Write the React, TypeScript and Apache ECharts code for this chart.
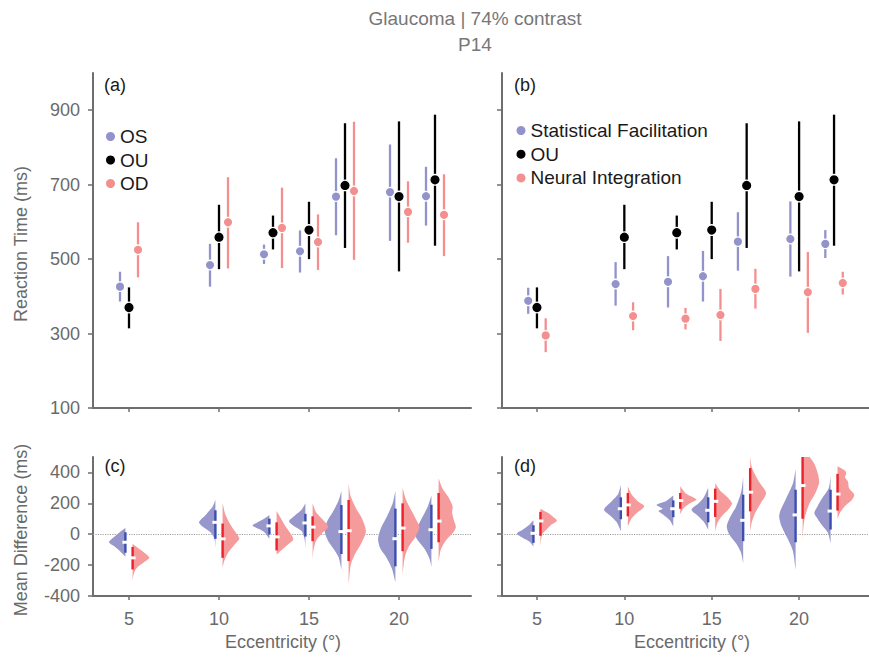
import React, { useEffect, useRef } from "react";
import * as echarts from "echarts";

// ---------- data ----------
const eccentricities = [5, 10, 13, 15, 17, 20, 22];
const xTicks = [5, 10, 15, 20];
const rtTicks = [100, 300, 500, 700, 900];
const diffTicks = [-400, -200, 0, 200, 400];

// Panel (a): reaction times
const osMean = [426, 484, 513, 521, 668, 680, 669];
const osLow = [386, 426, 487, 464, 564, 549, 590];
const osHigh = [466, 541, 539, 577, 771, 808, 748];
const ouMean = [370, 559, 571, 578, 698, 668, 713];
const ouLow = [314, 473, 526, 500, 530, 467, 536];
const ouHigh = [424, 646, 617, 654, 865, 870, 888];
const odMean = [525, 599, 584, 546, 683, 627, 619];
const odLow = [451, 475, 476, 471, 498, 544, 508];
const odHigh = [599, 720, 692, 620, 869, 709, 728];

// Panel (b): model predictions
const sfMean = [388, 433, 439, 454, 547, 554, 541];
const sfLow = [353, 375, 370, 386, 469, 453, 503];
const sfHigh = [423, 492, 508, 522, 626, 655, 578];
const niMean = [295, 347, 340, 350, 420, 411, 436];
const niLow = [250, 309, 311, 280, 367, 302, 405];
const niHigh = [341, 384, 369, 420, 474, 519, 466];

// Panel (c): mean-difference distributions, profile = [value, half width (deg)]
const cOsProfiles = [
  [[40, 0], [10, 0.35], [-20, 0.65], [-52, 0.91], [-80, 0.6], [-110, 0.3], [-146, 0]],
  [[224, 0], [180, 0.15], [130, 0.5], [77, 0.91], [40, 0.6], [10, 0.25], [-30, 0.05], [-88, 0]],
  [[125, 0], [100, 0.3], [75, 0.7], [56, 0.94], [35, 0.6], [10, 0.25], [-30, 0]],
  [[200, 0], [160, 0.2], [120, 0.6], [84, 0.91], [50, 0.6], [20, 0.2], [-30, 0.05], [-88, 0]],
  [[280, 0], [220, 0.15], [150, 0.45], [80, 0.8], [19, 0.93], [-40, 0.75], [-100, 0.4], [-150, 0.15], [-230, 0]],
  [[280, 0], [200, 0.15], [120, 0.45], [40, 0.8], [-30, 0.96], [-90, 0.85], [-150, 0.5], [-220, 0.2], [-310, 0]],
  [[250, 0], [180, 0.2], [100, 0.55], [30, 0.85], [0, 0.93], [-40, 0.75], [-100, 0.35], [-160, 0.1], [-210, 0]],
];
const cOsBars = [[-120, 13], [-30, 155], [-2, 101], [-15, 132], [-128, 189], [-208, 166], [-95, 191]];
const cOsMedians = [-52, 77, 54, 73, 17, -29, 29];

const cOdProfiles = [
  [[-62, 0], [-90, 0.3], [-120, 0.65], [-153, 0.93], [-185, 0.6], [-215, 0.25], [-250, 0.08], [-300, 0]],
  [[200, 0], [130, 0.15], [60, 0.45], [0, 0.8], [-30, 0.93], [-70, 0.65], [-120, 0.3], [-170, 0.1], [-217, 0]],
  [[150, 0], [100, 0.25], [50, 0.5], [0, 0.8], [-34, 0.93], [-70, 0.6], [-100, 0.3], [-131, 0]],
  [[200, 0], [140, 0.2], [90, 0.6], [47, 0.87], [10, 0.55], [-40, 0.2], [-100, 0.05], [-163, 0]],
  [[330, 0], [250, 0.1], [170, 0.4], [100, 0.75], [20, 0.96], [-60, 0.7], [-130, 0.35], [-200, 0.12], [-330, 0]],
  [[300, 0], [220, 0.2], [140, 0.55], [60, 0.9], [41, 0.93], [-20, 0.7], [-80, 0.35], [-150, 0.12], [-260, 0]],
  [[360, 0], [300, 0.2], [240, 0.55], [180, 0.78], [140, 0.75], [90, 0.85], [45, 0.96], [10, 0.8], [-40, 0.4], [-100, 0.12], [-180, 0]],
];
const cOdBars = [[-228, -82], [-153, 69], [-105, 77], [-45, 116], [-174, 222], [-110, 200], [-52, 267]];
const cOdMedians = [-153, -30, -17, 46, 23, 40, 85];

// Panel (d)
const dSfProfiles = [
  [[90, 0], [60, 0.25], [30, 0.6], [4, 0.94], [-25, 0.6], [-50, 0.2], [-80, 0]],
  [[320, 0], [260, 0.15], [210, 0.55], [159, 0.96], [120, 0.6], [80, 0.25], [20, 0]],
  [[250, 0], [215, 0.4], [190, 0.96], [165, 0.6], [150, 0.85], [125, 0.55], [90, 0.2], [50, 0]],
  [[300, 0], [240, 0.25], [200, 0.55], [159, 0.96], [120, 0.6], [80, 0.25], [30, 0]],
  [[370, 0], [280, 0.1], [180, 0.4], [110, 0.75], [52, 0.94], [0, 0.8], [-60, 0.4], [-120, 0.12], [-190, 0]],
  [[420, 0], [330, 0.15], [230, 0.55], [150, 0.88], [110, 0.94], [50, 0.8], [-30, 0.45], [-110, 0.15], [-230, 0]],
  [[375, 0], [300, 0.1], [230, 0.5], [170, 0.8], [138, 0.93], [110, 0.8], [60, 0.5], [10, 0.15], [-60, 0]],
];
const dSfBars = [[-56, 58], [97, 239], [110, 219], [77, 239], [-45, 256], [-52, 288], [30, 288]];
const dSfMedians = [6, 165, 165, 155, 90, 125, 150];

const dNiProfiles = [
  [[165, 0], [140, 0.4], [115, 0.7], [88, 0.94], [60, 0.6], [30, 0.35], [0, 0.1], [-77, 0]],
  [[310, 0], [260, 0.2], [215, 0.55], [181, 0.94], [140, 0.55], [100, 0.2], [50, 0]],
  [[310, 0], [265, 0.3], [235, 0.8], [224, 0.93], [200, 0.55], [170, 0.2], [130, 0]],
  [[330, 0], [280, 0.3], [240, 0.7], [200, 0.96], [160, 0.75], [120, 0.4], [80, 0.15], [20, 0]],
  [[500, 0], [430, 0.1], [350, 0.45], [267, 0.91], [200, 0.6], [140, 0.3], [80, 0.1], [20, 0]],
  [[540, 0], [500, 0.4], [450, 0.7], [380, 0.9], [331, 0.94], [270, 0.75], [200, 0.4], [120, 0.15], [50, 0.05], [-34, 0]],
  [[440, 0], [410, 0.45], [390, 0.5], [370, 0.42], [340, 0.6], [300, 0.65], [256, 0.96], [220, 0.8], [180, 0.4], [140, 0.15], [100, 0]],
];
const dNiBars = [[-10, 145], [116, 267], [165, 267], [112, 295], [148, 428], [100, 500], [153, 391]];
const dNiMedians = [86, 190, 218, 213, 272, 315, 260];

// ---------- style ----------
const FONT = "'Liberation Sans', Arial, Helvetica, sans-serif";
const AXIS = "#6e6e6e";
const LABEL = "#6a6a6a";
const PURPLE = "#9393cc";
const SALMON = "#f48f8f";
const BLACK = "#000000";
const V_PURPLE = "#9797cb";
const V_SALMON = "#f59b9b";
const BAR_BLUE = "#3c4eae";
const BAR_RED = "#ec2029";

const grids = [
  { left: 93, top: 73, width: 378, height: 335 },
  { left: 502, top: 73, width: 378, height: 335 },
  { left: 93, top: 457, width: 378, height: 139 },
  { left: 502, top: 457, width: 378, height: 139 },
];

function xAxis(gridIndex: number, showLabel: boolean) {
  return {
    type: "value",
    gridIndex,
    min: 3,
    max: 24,
    axisLine: { show: true, onZero: false, lineStyle: { color: AXIS, width: 2 } },
    axisTick: { show: true, length: 4, customValues: xTicks, lineStyle: { color: AXIS, width: 1.5 } },
    axisLabel: {
      show: showLabel,
      customValues: xTicks,
      fontSize: 18,
      color: LABEL,
      fontFamily: FONT,
      margin: 14,
    },
    splitLine: { show: false },
  };
}

function yAxis(gridIndex: number, min: number, max: number, ticks: number[], showLabel: boolean) {
  return {
    type: "value",
    gridIndex,
    min,
    max,
    axisLine: { show: true, onZero: false, lineStyle: { color: AXIS, width: 2 } },
    axisTick: { show: true, length: 5, customValues: ticks, lineStyle: { color: AXIS, width: 1.5 } },
    axisLabel: {
      show: showLabel,
      customValues: ticks,
      fontSize: 18,
      color: LABEL,
      fontFamily: FONT,
      margin: 13,
    },
    splitLine: { show: false },
  };
}

function errorSeries(name: string, axis: number, offset: number, lo: number[], hi: number[], color: string) {
  return {
    type: "custom",
    name,
    xAxisIndex: axis,
    yAxisIndex: axis,
    z: 2,
    data: eccentricities.map((e, i) => [e + offset, lo[i], hi[i]]),
    renderItem: (params: any, api: any) => {
      const p1 = api.coord([api.value(0), api.value(1)]);
      const p2 = api.coord([api.value(0), api.value(2)]);
      return {
        type: "line",
        shape: { x1: p1[0], y1: p1[1], x2: p2[0], y2: p2[1] },
        style: { stroke: color, lineWidth: 2.3 },
      };
    },
  };
}

function dotSeries(name: string, axis: number, offset: number, mean: number[], color: string, size: number) {
  return {
    type: "scatter",
    name,
    xAxisIndex: axis,
    yAxisIndex: axis,
    z: 5,
    symbol: "circle",
    symbolSize: size,
    itemStyle: { color, borderColor: "#ffffff", borderWidth: 1.3, opacity: 1 },
    data: eccentricities.map((e, i) => [e + offset, mean[i]]),
  };
}

function violinSeries(
  name: string,
  axis: number,
  side: number,
  profiles: number[][][],
  bars: number[][],
  medians: number[],
  fill: string,
  barColor: string,
  withZero: boolean
) {
  const s: any = {
    type: "custom",
    name,
    xAxisIndex: axis,
    yAxisIndex: axis,
    clip: true,
    z: 3,
    data: eccentricities.map((e, i) => [e, medians[i]]),
    renderItem: (params: any, api: any) => {
      const i = params.dataIndex;
      const base = eccentricities[i] + side * 0.2;
      const prof = profiles[i];
      const pts = prof.map(([v, w]) => api.coord([base + side * w, v]));
      const top = api.coord([base, prof[0][0]]);
      const bottom = api.coord([base, prof[prof.length - 1][0]]);
      const poly = [top, ...pts, bottom];
      const b1 = api.coord([base, bars[i][0]]);
      const b2 = api.coord([base, bars[i][1]]);
      const m = api.coord([base, medians[i]]);
      return {
        type: "group",
        children: [
          { type: "polygon", shape: { points: poly, smooth: 0.25 }, style: { fill, stroke: null } },
          {
            type: "line",
            shape: { x1: b1[0] - side * 1.2, y1: b1[1], x2: b2[0] - side * 1.2, y2: b2[1] },
            style: { stroke: "#ffffff", lineWidth: 2 },
          },
          {
            type: "line",
            shape: { x1: b1[0], y1: b1[1], x2: b2[0], y2: b2[1] },
            style: { stroke: barColor, lineWidth: 2.4 },
          },
          {
            type: "rect",
            shape: { x: m[0] - 3, y: m[1] - 1.5, width: 6, height: 3 },
            style: { fill: "#ffffff" },
          },
        ],
      };
    },
  };
  if (withZero) {
    s.markLine = {
      silent: true,
      symbol: "none",
      label: { show: false },
      lineStyle: { color: "#a0a0a0", type: "dotted", width: 1.2 },
      data: [{ yAxis: 0 }],
      z: 1,
    };
  }
  return s;
}

function text(t: string, x: number, y: number, size: number, color: string, rotation = 0) {
  return {
    type: "text",
    x,
    y,
    rotation,
    z: 10,
    style: {
      text: t,
      fill: color,
      fontSize: size,
      fontFamily: FONT,
      textAlign: "center",
      align: "center",
      textVerticalAlign: "middle",
      verticalAlign: "middle",
    },
  };
}

export default function App() {
  const ref = useRef<HTMLDivElement>(null);
  useEffect(() => {
    if (!ref.current) return;
    const chart = echarts.init(ref.current, null, { renderer: "svg" });
    const legendBase = {
      orient: "vertical",
      padding: 0,
      itemWidth: 9,
      itemHeight: 9,
      icon: "circle",
      selectedMode: false,
      itemStyle: { borderWidth: 0 },
      textStyle: { fontSize: 19, color: "#1a1a1a", fontFamily: FONT, lineHeight: 18 },
    };
    const option: any = {
      animation: false,
      backgroundColor: "#ffffff",
      grid: grids,
      xAxis: [xAxis(0, false), xAxis(1, false), xAxis(2, true), xAxis(3, true)],
      yAxis: [
        yAxis(0, 100, 1000, rtTicks, true),
        yAxis(1, 100, 1000, rtTicks, false),
        yAxis(2, -400, 500, diffTicks, true),
        yAxis(3, -400, 500, diffTicks, false),
      ],
      legend: [
        { ...legendBase, left: 106, top: 127, itemGap: 4.5, data: ["OS", "OU", "OD"] },
        {
          ...legendBase,
          left: 516.5,
          top: 121,
          itemGap: 4.7,
          data: ["Statistical Facilitation", "OU", "Neural Integration"],
        },
      ],
      graphic: [
        text("Glaucoma | 74% contrast", 475, 18, 19, "#777777"),
        text("P14", 475, 44, 19, "#777777"),
        text("Reaction Time (ms)", 21, 244, 18, LABEL, Math.PI / 2),
        text("Mean Difference (ms)", 21, 530, 18, LABEL, Math.PI / 2),
        text("Eccentricity (°)", 283, 642, 18, LABEL),
        text("Eccentricity (°)", 692, 642, 18, LABEL),
        text("(a)", 115, 85, 18, "#1a1a1a"),
        text("(b)", 525, 85, 18, "#1a1a1a"),
        text("(c)", 115, 466, 18, "#1a1a1a"),
        text("(d)", 525, 466, 18, "#1a1a1a"),
      ],
      series: [
        errorSeries("OS range", 0, -0.5, osLow, osHigh, PURPLE),
        errorSeries("OU range", 0, 0, ouLow, ouHigh, BLACK),
        errorSeries("OD range", 0, 0.5, odLow, odHigh, SALMON),
        dotSeries("OS", 0, -0.5, osMean, PURPLE, 9.5),
        dotSeries("OU", 0, 0, ouMean, BLACK, 10.5),
        dotSeries("OD", 0, 0.5, odMean, SALMON, 9.5),

        errorSeries("SF range", 1, -0.5, sfLow, sfHigh, PURPLE),
        errorSeries("OU range b", 1, 0, ouLow, ouHigh, BLACK),
        errorSeries("NI range", 1, 0.5, niLow, niHigh, SALMON),
        dotSeries("Statistical Facilitation", 1, -0.5, sfMean, PURPLE, 9.5),
        dotSeries("OU", 1, 0, ouMean, BLACK, 10.5),
        dotSeries("Neural Integration", 1, 0.5, niMean, SALMON, 9.5),

        violinSeries("OS - OU", 2, -1, cOsProfiles, cOsBars, cOsMedians, V_PURPLE, BAR_BLUE, true),
        violinSeries("OD - OU", 2, 1, cOdProfiles, cOdBars, cOdMedians, V_SALMON, BAR_RED, false),
        violinSeries("SF - OU", 3, -1, dSfProfiles, dSfBars, dSfMedians, V_PURPLE, BAR_BLUE, true),
        violinSeries("NI - OU", 3, 1, dNiProfiles, dNiBars, dNiMedians, V_SALMON, BAR_RED, false),
      ],
    };
    chart.setOption(option);
    return () => chart.dispose();
  }, []);
  return (
    <div
      ref={ref}
      style={{ position: "absolute", left: 0, top: 0, width: 869, height: 659, background: "#fff" }}
    />
  );
}
